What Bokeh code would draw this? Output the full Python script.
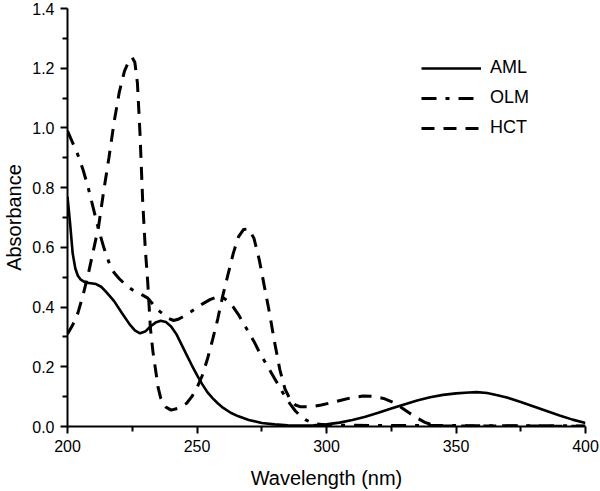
from bokeh.plotting import figure
from bokeh.models import Range1d, FixedTicker, PrintfTickFormatter, Legend, LegendItem
from bokeh.embed import file_html
from bokeh.resources import INLINE

# AML (solid)
aml_x = [200, 201, 202, 203, 204, 205, 207, 209, 211, 213, 215, 218, 221, 224, 226, 228, 230, 232, 234, 236,
         238, 240, 242, 244, 246, 248, 250, 252, 254, 256, 258, 260, 263, 266, 270, 275, 280, 285, 290, 295,
         300, 305, 310, 315, 320, 325, 330, 335, 340, 345, 350, 355, 358, 362, 366, 370, 375, 380, 385, 390,
         395, 400]
aml_y = [0.77, 0.68, 0.58, 0.53, 0.505, 0.493, 0.482, 0.48, 0.477, 0.468, 0.45, 0.42, 0.38, 0.342, 0.322, 0.312,
         0.318, 0.335, 0.348, 0.354, 0.35, 0.335, 0.31, 0.275, 0.24, 0.205, 0.172, 0.142, 0.115, 0.095, 0.078,
         0.063, 0.046, 0.034, 0.022, 0.012, 0.007, 0.004, 0.003, 0.004, 0.007, 0.013, 0.022, 0.033, 0.046, 0.06,
         0.074, 0.087, 0.098, 0.106, 0.111, 0.114, 0.115, 0.112, 0.105, 0.096, 0.082, 0.067, 0.052, 0.037,
         0.023, 0.012]

# OLM (dash-dot)
olm_x = [200, 202, 204, 206, 208, 210, 212, 214, 216, 218, 220, 223, 226, 229, 231, 233, 235, 237, 239, 241,
         243, 246, 249, 252, 255, 258, 260, 262, 264, 266, 268, 270, 272, 274, 276, 278, 280, 282, 284, 286,
         288, 290, 292, 295, 300, 320, 350, 400]
olm_y = [0.99, 0.95, 0.91, 0.86, 0.8, 0.73, 0.66, 0.6, 0.55, 0.515, 0.495, 0.47, 0.452, 0.44, 0.43, 0.41, 0.39,
         0.375, 0.362, 0.355, 0.36, 0.375, 0.392, 0.41, 0.425, 0.435, 0.432, 0.42, 0.4, 0.375, 0.345, 0.315,
         0.285, 0.25, 0.22, 0.19, 0.16, 0.13, 0.1, 0.075, 0.052, 0.035, 0.022, 0.01, 0.005, 0.003, 0.003, 0.002]

# HCT (dashed)
hct_x = [200, 202, 204, 206, 208, 210, 212, 214, 216, 218, 220, 222, 224, 225, 226, 227, 228, 229, 230, 231,
         232, 233, 234, 235, 236, 238, 240, 243, 246, 248, 250, 252, 254, 256, 258, 260, 262, 264, 266, 268,
         270, 272, 274, 276, 278, 280, 282, 284, 286, 288, 290, 294, 298, 302, 306, 310, 314, 318, 322, 326,
         329, 332, 335, 338, 341, 345, 400]
hct_y = [0.31, 0.34, 0.38, 0.44, 0.51, 0.59, 0.67, 0.79, 0.9, 1.02, 1.12, 1.19, 1.23, 1.235, 1.22, 1.15, 0.98,
         0.76, 0.6, 0.48, 0.33, 0.25, 0.19, 0.13, 0.095, 0.065, 0.055, 0.062, 0.078, 0.1, 0.13, 0.17, 0.225,
         0.29, 0.36, 0.44, 0.51, 0.58, 0.635, 0.66, 0.662, 0.63, 0.56, 0.47, 0.38, 0.28, 0.19, 0.125, 0.09,
         0.072, 0.066, 0.066, 0.072, 0.08, 0.089, 0.097, 0.102, 0.101, 0.094, 0.08, 0.063, 0.045, 0.028, 0.014,
         0.005, 0.002, 0.001]

x_ticks = [200, 250, 300, 350, 400]
x_minor = [225, 275, 325, 375]
y_ticks = [0.0, 0.2, 0.4, 0.6, 0.8, 1.0, 1.2, 1.4]
y_minor = [0.1, 0.3, 0.5, 0.7, 0.9, 1.1, 1.3]

FONT = "Liberation Sans"

p = figure(width=600, height=491, output_backend="svg", toolbar_location=None,
           x_range=Range1d(200, 400), y_range=Range1d(0, 1.4),
           min_border_left=40, min_border_right=15, min_border_top=8, min_border_bottom=40)
p.outline_line_color = None
p.grid.visible = False
p.background_fill_color = "white"
p.border_fill_color = "white"

r_aml = p.line(aml_x, aml_y, line_color="black", line_width=2.6)
r_olm = p.line(olm_x, olm_y, line_color="black", line_width=3, line_dash="15 9 4 9")
r_hct = p.line(hct_x, hct_y, line_color="black", line_width=3, line_dash="13 9")

for ax in (p.xaxis[0], p.yaxis[0]):
    ax.axis_line_width = 2
    ax.axis_line_color = "black"
    ax.major_tick_line_width = 2
    ax.minor_tick_line_width = 2
    ax.major_tick_in = 0
    ax.major_tick_out = 7
    ax.minor_tick_in = 0
    ax.minor_tick_out = 5
    ax.major_label_text_font = FONT
    ax.major_label_text_font_size = "16px"
    ax.major_label_text_color = "black"
    ax.axis_label_text_font = FONT
    ax.axis_label_text_font_size = "20px"
    ax.axis_label_text_font_style = "normal"
    ax.axis_label_text_color = "black"

p.xaxis[0].ticker = FixedTicker(ticks=x_ticks, minor_ticks=x_minor)
p.yaxis[0].ticker = FixedTicker(ticks=y_ticks, minor_ticks=y_minor)
p.yaxis[0].formatter = PrintfTickFormatter(format="%.1f")
p.xaxis[0].axis_label = "Wavelength (nm)"
p.yaxis[0].axis_label = "Absorbance"
p.xaxis[0].major_label_standoff = 6
p.xaxis[0].axis_label_standoff = 12
p.yaxis[0].major_label_standoff = 6
p.yaxis[0].axis_label_standoff = 4

legend = Legend(items=[LegendItem(label="AML", renderers=[r_aml]),
                       LegendItem(label="OLM", renderers=[r_olm]),
                       LegendItem(label="HCT", renderers=[r_hct])],
                location=(354, 288))
legend.border_line_color = None
legend.background_fill_alpha = 0
legend.glyph_width = 60
legend.glyph_height = 20
legend.label_height = 20
legend.spacing = 9
legend.padding = 10
legend.label_standoff = 9
legend.label_text_font = FONT
legend.label_text_font_size = "18px"
legend.label_text_color = "black"
p.add_layout(legend, "center")

open("out.html", "w").write(file_html(p, INLINE))
